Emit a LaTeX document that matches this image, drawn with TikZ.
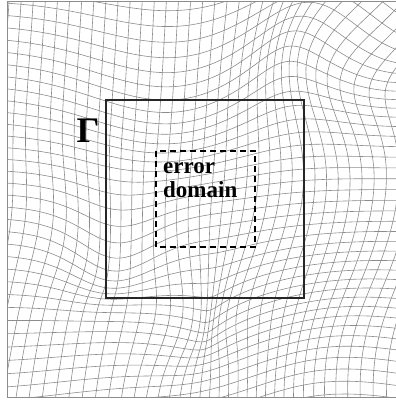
\documentclass[tikz,border=0pt]{standalone}
\usepackage{fontspec}
\setmainfont{Liberation Serif}
% displaced position of mesh point (#1,#2) -> \wx,\wy
\newcommand\warp[2]{%
  \pgfmathsetmacro\gA{exp(-((#1-3.55)^2+(#2-0.15)^2)/0.72)}%
  \pgfmathsetmacro\gB{exp(-((#1-4.0)^2+(#2-4.1)^2)/2.0)}%
  \pgfmathsetmacro\gC{exp(-((#1)^2+(#2-4.2)^2)/1.28)}%
  \pgfmathsetmacro\gD{exp(-((#1-2.2)^2+(#2-3.0)^2)/0.42)}%
  \pgfmathsetmacro\gE{exp(-((#1-1.6)^2+(#2-0.7)^2)/1.125)}%
  \pgfmathsetmacro\gF{exp(-((#1-1.1)^2+(#2-2.3)^2)/0.32)}%
  \pgfmathsetmacro\gG{exp(-((#1-0.6)^2+(#2-2.1)^2)/0.405)}%
  \pgfmathsetmacro\wx{#1-0.07*(#2-2)-1.0*(#2-0.15)*\gA-0.4*\gB-0.18*\gC
    -0.6*(#1-2.2)*\gD+0.12*\gG}%
  \pgfmathsetmacro\wy{#2+0.4*\gE+0.8*(#1-3.55)*\gA+0.38*\gF+0.25*\gD
    -0.4*\gB+0.18*\gC}%
}

\begin{document}
\begin{tikzpicture}[x=100pt, y=-100pt,
  mesh/.style={draw=black!45, line width=0.6pt},
  frame/.style={draw=black!45, line width=1pt},
  gambox/.style={draw=black!85, line width=1.8pt},
  errbox/.style={draw=black, line width=1.6pt, dash pattern=on 6pt off 4pt},
  lbl/.style={font=\bfseries\fontsize{23}{24}\selectfont, align=left, inner sep=0pt}]
\useasboundingbox (0,0) rectangle (3.96,4);
% mesh points
\foreach \i in {-4,...,37}{
  \foreach \j in {-4,...,37}{
    \pgfmathsetmacro\px{0.07+0.12*\i}
    \pgfmathsetmacro\py{0.01+0.12*\j}
    \warp{\px}{\py}
    \expandafter\xdef\csname wp\i:\j\endcsname{(\wx,\wy)}
  }
}
% warped mesh
\begin{scope}
\clip (0.07,0.01) rectangle (3.96,3.97);
\foreach \i in {-4,...,37}{
  \gdef\vpts{}\gdef\hpts{}
  \foreach \j in {-4,...,37}{
    \xdef\vpts{\vpts\csname wp\i:\j\endcsname}
    \xdef\hpts{\hpts\csname wp\j:\i\endcsname}
  }
  \draw[mesh] plot[smooth] coordinates {\vpts};
  \draw[mesh] plot[smooth] coordinates {\hpts};
}
\end{scope}
\draw[frame] (0.07,0.01) rectangle (3.96,3.97);
% domains
\draw[gambox] (1.06,1.00) rectangle (3.04,2.98);
\draw[errbox] (1.56,1.51) rectangle (2.55,2.47);
\node[font=\bfseries\fontsize{36}{36}\selectfont, inner sep=0pt] (gamma) at (0.88,1.31) {Γ};
\node[lbl, anchor=base west] (err) at (1.63,1.97) {error\\domain};
\end{tikzpicture}
\end{document}
